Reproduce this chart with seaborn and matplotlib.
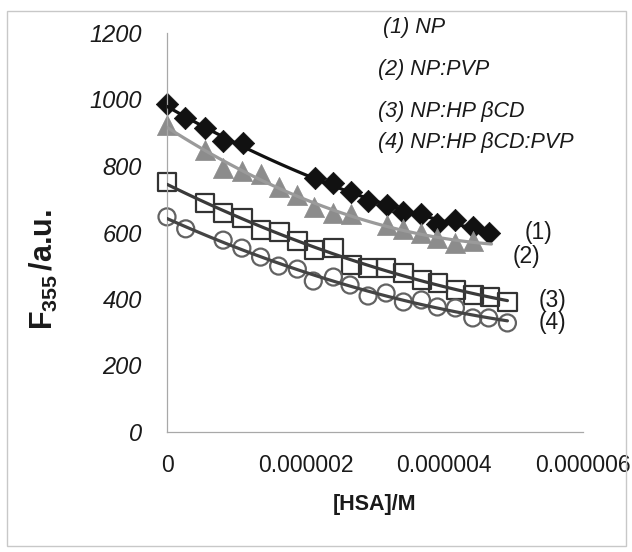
import numpy as np
import pandas as pd
import matplotlib
matplotlib.use("Agg")
import matplotlib.pyplot as plt
import seaborn as sns
from matplotlib.patches import Rectangle

# ---------------- data (x in units of 1e-6 M) ----------------
x1 = [0, 0.26, 0.55, 0.81, 1.09, 2.14, 2.40, 2.65, 2.90, 3.17, 3.41, 3.67, 3.90, 4.15, 4.41, 4.65]
y1 = [986, 944, 914, 875, 869, 764, 749, 722, 695, 683, 662, 656, 626, 638, 617, 599]

x2 = [0, 0.55, 0.81, 1.08, 1.35, 1.61, 1.88, 2.12, 2.40, 2.65, 3.17, 3.41, 3.67, 3.90, 4.15, 4.41]
y2 = [923, 848, 794, 785, 776, 737, 713, 677, 660, 655, 622, 611, 600, 582, 568, 574]

x3 = [0, 0.55, 0.81, 1.09, 1.36, 1.62, 1.88, 2.12, 2.40, 2.66, 2.90, 3.16, 3.41, 3.68, 3.91, 4.17, 4.42, 4.66, 4.91]
y3 = [752, 689, 659, 644, 608, 602, 575, 548, 553, 502, 493, 493, 478, 457, 448, 427, 412, 406, 391]

x4 = [0, 0.27, 0.81, 1.08, 1.35, 1.61, 1.88, 2.11, 2.40, 2.64, 2.90, 3.16, 3.41, 3.67, 3.90, 4.16, 4.41, 4.64, 4.91]
y4 = [647, 611, 577, 553, 526, 499, 490, 454, 466, 442, 409, 418, 391, 397, 376, 373, 343, 343, 328]

# x where each trendline ends
fit_end = [4.65, 4.68, 4.91, 4.91]

series_names = ["(1) NP", "(2) NP:PVP", "(3) NP:HP βCD", "(4) NP:HP βCD:PVP"]
end_labels = ["(1)", "(2)", "(3)", "(4)"]
xtick_vals = [0, 2, 4, 6]
xtick_labels = ["0", "0.000002", "0.000004", "0.000006"]
ytick_vals = [0, 200, 400, 600, 800, 1000, 1200]

# ---------------- style ----------------
sns.set_style("white")
plt.rcParams["font.family"] = ["Liberation Sans", "DejaVu Sans"]
plt.rcParams["mathtext.fontset"] = "custom"
plt.rcParams["mathtext.rm"] = "Liberation Sans"
plt.rcParams["mathtext.bf"] = "Liberation Sans:bold"
plt.rcParams["mathtext.it"] = "Liberation Sans:italic"

W, H = 632, 552
fig = plt.figure(figsize=(W / 100, H / 100), dpi=100)
ax = fig.add_axes([167 / W, 1 - 432 / H, (583 - 167) / W, (432 - 33) / H])

styles = [
    dict(marker="D", s=130, color="#111111", edgecolor="#111111", linewidth=0.5, line="#111111"),
    dict(marker="^", s=210, color="#8c8c8c", edgecolor="#8c8c8c", linewidth=0.5, line="#9a9a9a"),
    dict(marker="s", s=175, color="none", edgecolor="#333333", linewidth=1.6, line="#3a3a3a"),
    dict(marker="o", s=150, color="none", edgecolor="#626262", linewidth=1.6, line="#444444"),
]

for xs, ys, st, xe in zip([x1, x2, x3, x4], [y1, y2, y3, y4], styles, fit_end):
    df = pd.DataFrame({"x": xs, "y": ys})
    sns.scatterplot(data=df, x="x", y="y", ax=ax, marker=st["marker"], s=st["s"],
                    color=st["color"] if st["color"] != "none" else "white",
                    facecolor=st["color"], edgecolor=st["edgecolor"],
                    linewidth=st["linewidth"], zorder=2, clip_on=False, legend=False)
    # second-order polynomial trendline fitted to the data (as an Excel trendline)
    coef = np.polyfit(np.array(xs), np.array(ys), 2)
    xf = np.linspace(0, xe, 120)
    fit = pd.DataFrame({"x": xf, "y": np.polyval(coef, xf)})
    sns.lineplot(data=fit, x="x", y="y", ax=ax, color=st["line"], linewidth=2.3,
                 zorder=3, legend=False)

ax.set_xlim(0, 6)
ax.set_ylim(0, 1200)
ax.set_xticks(xtick_vals)
ax.set_xticklabels(xtick_labels)
ax.set_yticks(ytick_vals)
ax.set_yticklabels([str(v) for v in ytick_vals], style="italic")

for s in ["top", "right"]:
    ax.spines[s].set_visible(False)
for s in ["left", "bottom"]:
    ax.spines[s].set_color("#a8a8a8")
    ax.spines[s].set_linewidth(0.9)
ax.tick_params(axis="both", direction="out", length=5, width=0.9, color="#a8a8a8",
               labelcolor="#1a1a1a")
ax.tick_params(axis="y", labelsize=17, pad=13)
ax.tick_params(axis="x", labelsize=16.5, pad=11)

ax.set_xlabel("[HSA]/M", fontsize=15.5, fontweight="bold", color="#1a1a1a", labelpad=12)
ax.set_ylabel(r"$\mathbf{F}_{\mathbf{355}}\,$/a.u.", fontsize=22, fontweight="bold",
              color="#1a1a1a")
ax.yaxis.set_label_coords((60 - 167) / 416, (432 - 270) / 399)

# legend texts
leg_pos = [(383, 28), (378, 70), (378, 111), (378, 143)]
for (px, py), name in zip(leg_pos, series_names):
    fig.text(px / W, 1 - py / H, name, fontsize=15.5, style="italic",
             ha="left", va="center", color="#1a1a1a")

end_pos = [(525, 232), (513, 257), (539, 300), (539, 322)]
for (px, py), lab in zip(end_pos, end_labels):
    fig.text(px / W, 1 - py / H, lab, fontsize=16.5, ha="left", va="center",
             color="#1a1a1a")

fig.patches.append(Rectangle((7 / W, 1 - 546 / H), (626 - 7) / W, (546 - 11) / H,
                             transform=fig.transFigure, fill=False,
                             edgecolor="#c8c8c8", linewidth=1.0))

fig.savefig("out.png", dpi=100, facecolor="white")
